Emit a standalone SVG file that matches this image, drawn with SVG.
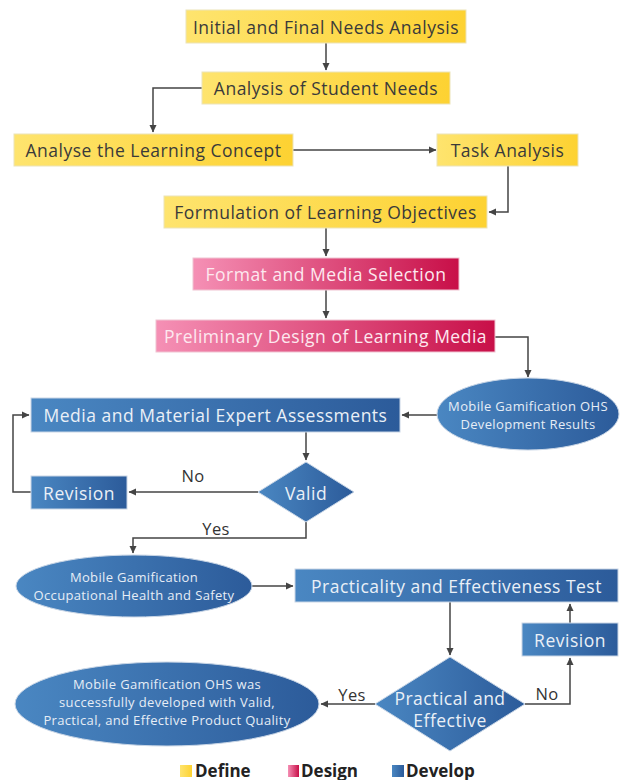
<svg xmlns="http://www.w3.org/2000/svg" width="622" height="780" viewBox="0 0 622 780">
<defs>
<linearGradient id="gy" x1="0" y1="0" x2="1" y2="0"><stop offset="0" stop-color="#FEE46E"/><stop offset="1" stop-color="#FDD232"/></linearGradient>
<linearGradient id="gp" x1="0" y1="0" x2="1" y2="0"><stop offset="0" stop-color="#F590B5"/><stop offset="1" stop-color="#C80F48"/></linearGradient>
<linearGradient id="gb" x1="0" y1="0" x2="1" y2="0"><stop offset="0" stop-color="#4A87C2"/><stop offset="1" stop-color="#2C5B9A"/></linearGradient>
<marker id="ah" markerWidth="8" markerHeight="8" refX="7" refY="4" orient="auto" markerUnits="userSpaceOnUse"><path d="M0,0.5 L7.5,4 L0,7.5 z" fill="#444"/></marker>
</defs>
<style>
.y{fill:url(#gy);stroke:#ece3b8;stroke-width:1}
.p{fill:url(#gp);stroke:#f0c4d2;stroke-width:1}
.b{fill:url(#gb);stroke:#c9d6e6;stroke-width:1}
text{font-family:"Open Sans","Liberation Sans",sans-serif;text-anchor:middle;dominant-baseline:central}
.ty{fill:#3a3a3a;font-size:17.5px;letter-spacing:0.5px}
.tp{fill:#fde8ef;font-size:17.5px;letter-spacing:0.5px}
.tb{fill:#eaf0f7;font-size:17.5px;letter-spacing:0.5px}
.ts{fill:#e6edf6;font-size:13px;letter-spacing:0.35px}
.lbl{fill:#333;font-size:16.5px;letter-spacing:0.3px}
.c{fill:none;stroke:#444;stroke-width:1.5}
.leg{fill:#222;font-size:17px;font-weight:bold;text-anchor:start}
</style>
<g id="connectors">
<path class="c" d="M326,43 V70" marker-end="url(#ah)"/>
<path class="c" d="M202,88 H153 V132" marker-end="url(#ah)"/>
<path class="c" d="M293,150 H436" marker-end="url(#ah)"/>
<path class="c" d="M508,166 V212 H489" marker-end="url(#ah)"/>
<path class="c" d="M326,228 V256" marker-end="url(#ah)"/>
<path class="c" d="M326,290 V318" marker-end="url(#ah)"/>
<path class="c" d="M495,337 H528 V377" marker-end="url(#ah)"/>
<path class="c" d="M437,415 H402" marker-end="url(#ah)"/>
<path class="c" d="M306,432 V460" marker-end="url(#ah)"/>
<path class="c" d="M258,492 H129" marker-end="url(#ah)"/>
<path class="c" d="M31,492 H13 V415 H29" marker-end="url(#ah)"/>
<path class="c" d="M306,522 V538 H133 V553" marker-end="url(#ah)"/>
<path class="c" d="M252,586 H293" marker-end="url(#ah)"/>
<path class="c" d="M450,602 V655" marker-end="url(#ah)"/>
<path class="c" d="M525,704 H570 V658" marker-end="url(#ah)"/>
<path class="c" d="M570,623 V604" marker-end="url(#ah)"/>
<path class="c" d="M375,704 H321" marker-end="url(#ah)"/>
<text class="lbl" x="193" y="475">No</text>
<text class="lbl" x="216" y="528">Yes</text>
<text class="lbl" x="352" y="694">Yes</text>
<text class="lbl" x="547" y="693">No</text>
</g>
<g id="n1"><rect class="y" x="186" y="10" width="280" height="33"/><text class="ty" x="326" y="26.5">Initial and Final Needs Analysis</text></g>
<g id="n2"><rect class="y" x="202" y="72" width="248" height="32"/><text class="ty" x="326" y="88">Analysis of Student Needs</text></g>
<g id="n3"><rect class="y" x="14" y="134" width="279" height="32"/><text class="ty" x="153.5" y="150">Analyse the Learning Concept</text></g>
<g id="n4"><rect class="y" x="437" y="134" width="141" height="32"/><text class="ty" x="507.5" y="150">Task Analysis</text></g>
<g id="n5"><rect class="y" x="164" y="196" width="323" height="32"/><text class="ty" x="325.5" y="212">Formulation of Learning Objectives</text></g>
<g id="n6"><rect class="p" x="193" y="258" width="266" height="32"/><text class="tp" x="326" y="274">Format and Media Selection</text></g>
<g id="n7"><rect class="p" x="156" y="320" width="339" height="32"/><text class="tp" x="325.5" y="336">Preliminary Design of Learning Media</text></g>
<g id="n8"><ellipse class="b" cx="528" cy="414" rx="91" ry="36"/><text class="ts" x="528" y="406">Mobile Gamification OHS</text><text class="ts" x="528" y="424">Development Results</text></g>
<g id="n9"><rect class="b" x="31" y="398" width="369" height="34"/><text class="tb" x="215.5" y="415">Media and Material Expert Assessments</text></g>
<g id="n10"><path class="b" d="M306,462 L354,492 L306,522 L258,492 Z"/><text class="tb" x="306" y="493">Valid</text></g>
<g id="n11"><rect class="b" x="31" y="476" width="96" height="33"/><text class="tb" x="79" y="492.5">Revision</text></g>
<g id="n12"><ellipse class="b" cx="134" cy="586" rx="118" ry="31"/><text class="ts" x="134" y="577">Mobile Gamification</text><text class="ts" x="134" y="595">Occupational Health and Safety</text></g>
<g id="n13"><rect class="b" x="295" y="569" width="323" height="33"/><text class="tb" x="456.5" y="585.5">Practicality and Effectiveness Test</text></g>
<g id="n14"><rect class="b" x="522" y="623" width="96" height="33"/><text class="tb" x="570" y="639.5">Revision</text></g>
<g id="n15"><path class="b" d="M450,657 L525,704 L450,751 L375,704 Z"/><text class="tb" x="450" y="698">Practical and</text><text class="tb" x="450" y="720">Effective</text></g>
<g id="n16"><ellipse class="b" cx="167" cy="704" rx="152" ry="42"/><text class="ts" x="167" y="684">Mobile Gamification OHS was</text><text class="ts" x="167" y="702">successfully developed with Valid,</text><text class="ts" x="167" y="720">Practical, and Effective Product Quality</text></g>
<g id="legend">
<rect x="180" y="765" width="12" height="12" fill="url(#gy)"/><text class="leg" x="195" y="770">Define</text>
<rect x="288" y="765" width="11" height="12" fill="url(#gp)"/><text class="leg" x="301" y="770">Design</text>
<rect x="392" y="765" width="12" height="12" fill="url(#gb)"/><text class="leg" x="406" y="770">Develop</text>
</g>
</svg>
